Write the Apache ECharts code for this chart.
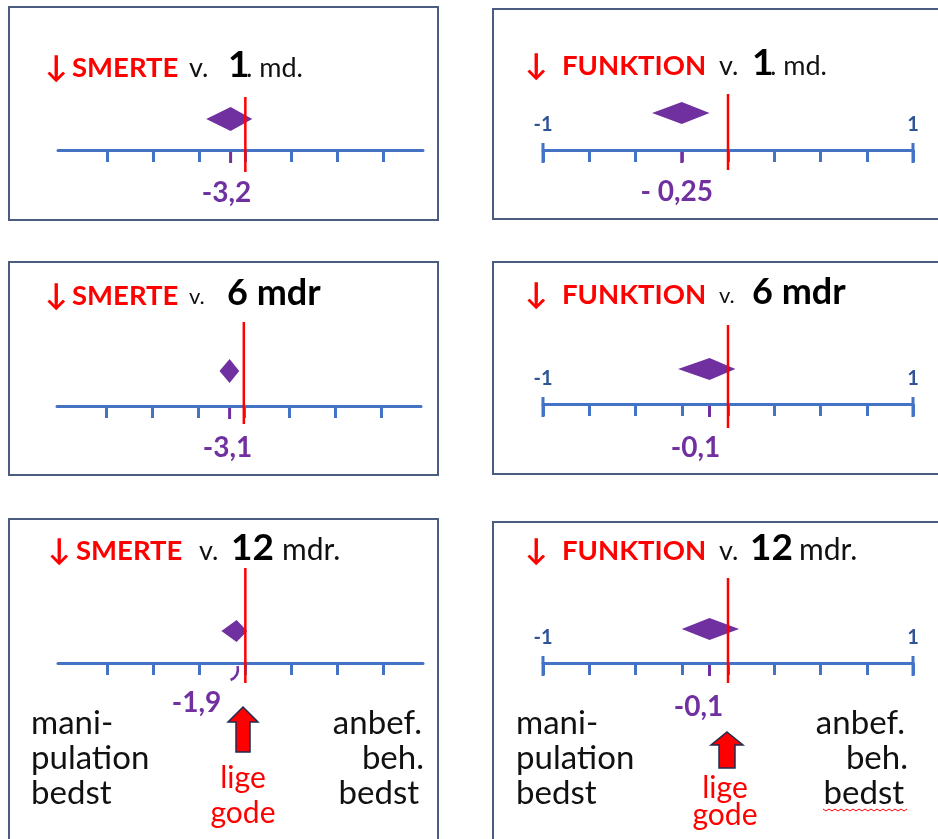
<!DOCTYPE html>
<html>
<head>
<meta charset="utf-8">
<script src="https://cdn.jsdelivr.net/npm/echarts@6/dist/echarts.min.js"></script>
<style>
html, body { margin: 0; padding: 0; background: #fff; }
#main { width: 938px; height: 839px; }
</style>
</head>
<body>
<div id="main"></div>
<script>
// estimat og interval (diamant) for hvert panel: smerte i venstre kolonne, funktion i højre
var estimates = [-3.2, -0.25, -3.1, -0.1, -1.9, -0.1];
var ciLow = [-8.5, -0.41, -5.3, -0.27, -5.2, -0.25];
var ciHigh = [1.5, -0.1, -1.0, 0.04, 0.4, 0.06];
var valueLabels = ['-3,2', '- 0,25', '-3,1', '-0,1', '-1,9', '-0,1'];

// akser
var smerteTicks = [-30, -20, -10, 0, 10, 20, 30];
var funktionTicks = [-1, -0.75, -0.5, -0.25, 0, 0.25, 0.5, 0.75, 1];
var funktionEndLabels = [-1, 1];
var smerteRange = [-40.7, 38.6];
var funktionRange = [-1, 1];

// titler
var titleWords = [
    ['↓', 'SMERTE', 'v.', '1', '. md.'],
    ['↓', 'FUNKTION', 'v.', '1', '. md.'],
    ['↓', 'SMERTE', 'v.', '6 mdr'],
    ['↓', 'FUNKTION', 'v.', '6 mdr'],
    ['↓', 'SMERTE', 'v.', '12', 'mdr.'],
    ['↓', 'FUNKTION', 'v.', '12', 'mdr.']
];
var leftCaption = ['mani-', 'pulation', 'bedst'];
var rightCaption = ['anbef.', 'beh.', 'bedst'];
var midCaption = ['lige', 'gode'];

var RED = '#ff0000', PURPLE = '#7030a0', BLUE = '#4472c4', DARKBLUE = '#2f5597', BORDER = '#4a5d80';
var FONT = 'Lato, "Open Sans", sans-serif';

// placering af panelerne (pixels)
var layout = [
    {box: [9, 7, 429, 213], ax: 58, aw: 365, ay: 150, rt: 97, rb: 172, dy: 31, dh: 12, ldx: -4, ldy: 43,
        tb: 76, tx: [45, 72, 189, 228, 246], tk: ['arr', 'red', 'n', 'big', 'n']},
    {box: [493, 9, 460, 210], ax: 543, aw: 370, ay: 150, rt: 94, rb: 170, dy: 37, dh: 11, ldx: -5, ldy: 42,
        tb: 74, tx: [525, 562, 719, 752, 770], tk: ['arr', 'red', 'n', 'big', 'n']},
    {box: [9, 262, 429, 213], ax: 57, aw: 364, ay: 406, rt: 322, rb: 424, dy: 35, dh: 12, ldx: -2, ldy: 42,
        tb: 304, tx: [45, 72, 189, 227], tk: ['arr', 'red', 'sm', 'big6']},
    {box: [493, 262, 460, 212], ax: 543, aw: 370, ay: 404, rt: 325, rb: 428, dy: 35, dh: 11, ldx: -14, ldy: 44,
        tb: 303, tx: [525, 562, 719, 752], tk: ['arr', 'red', 'sm', 'big6']},
    {box: [9, 519, 429, 340], ax: 58, aw: 365, ay: 663, rt: 568, rb: 683, dy: 32, dh: 11, ldx: -40, ldy: 40,
        tb: 559, tx: [48, 76, 199, 231, 282], tk: ['arr', 'red', 'n', 'big', 'n2'], curl: true},
    {box: [493, 522, 460, 340], ax: 543, aw: 370, ay: 663, rt: 578, rb: 683, dy: 34, dh: 11, ldx: -11, ldy: 44,
        tb: 559, tx: [525, 562, 719, 750, 799], tk: ['arr', 'red', 'n', 'big', 'n2']}
];
var kindStyle = {
    arr: {size: 30, weight: 'bold', color: RED},
    red: {size: 27.5, weight: 'bold', color: RED},
    n: {size: 27, weight: 'normal', color: '#111'},
    n2: {size: 30, weight: 'normal', color: '#111'},
    sm: {size: 22, weight: 'normal', color: '#111'},
    big: {size: 37, weight: 'bold', color: '#000'},
    big6: {size: 36, weight: 'bold', color: '#000'}
};

var myChart = echarts.init(document.getElementById('main'));
var grids = [], xAxes = [], yAxes = [], series = [], graphics = [];

function txt(text, x, baseline, size, weight, color, align) {
    graphics.push({
        type: 'text', x: x, y: baseline - size * 0.3, z: 5,
        style: {
            text: text, fill: color, font: weight + ' ' + size + 'px ' + FONT,
            textAlign: align || 'left', textVerticalAlign: 'middle',
            align: align || 'left', verticalAlign: 'middle'
        }
    });
}

function makeRender(L, isF) {
    return function (params, api) {
        var est = api.value(0), lo = api.value(1), hi = api.value(2);
        var top = api.coord([0, 1]);
        var zero = api.coord([0, 0]);
        var ay = zero[1];
        var ex = api.coord([est, 0])[0];
        var lx = api.coord([lo, 0])[0];
        var hx = api.coord([hi, 0])[0];
        var cy = ay - L.dy;
        var kids = [];
        if (isF) {
            [funktionRange[0], funktionRange[1]].forEach(function (v) {
                var x = api.coord([v, 0])[0];
                kids.push({type: 'line', shape: {x1: x, y1: ay - 7, x2: x, y2: ay + 13},
                    style: {stroke: BLUE, lineWidth: 3}});
            });
        }
        kids.push({type: 'polygon', shape: {points: [[lx, cy], [ex, cy - L.dh], [hx, cy], [ex, cy + L.dh]]},
            style: {fill: PURPLE}});
        if (L.curl) {
            kids.push({type: 'bezierCurve', shape: {x1: ex + 1, y1: ay + 3, cpx1: ex + 3, cpy1: ay + 13, x2: ex - 6, y2: ay + 17},
                style: {stroke: PURPLE, lineWidth: 2.5, fill: null}});
        } else {
            kids.push({type: 'line', shape: {x1: ex, y1: ay + 2, x2: ex, y2: ay + 13},
                style: {stroke: PURPLE, lineWidth: 3}});
        }
        kids.push({type: 'line', shape: {x1: zero[0], y1: top[1], x2: zero[0], y2: L.rb},
            style: {stroke: RED, lineWidth: 2.5}});
        kids.push({type: 'text', x: ex + L.ldx, y: ay + L.ldy,
            style: {text: valueLabels[L.idx], fill: PURPLE, font: 'bold 28px ' + FONT,
                align: 'center', verticalAlign: 'middle'}});
        return {type: 'group', children: kids};
    };
}

layout.forEach(function (L, i) {
    var isF = i % 2 === 1;
    L.idx = i;
    grids.push({left: L.ax, width: L.aw, top: L.rt, height: L.ay - L.rt});
    xAxes.push({
        gridIndex: i, type: 'value',
        min: isF ? funktionRange[0] : smerteRange[0],
        max: isF ? funktionRange[1] : smerteRange[1],
        axisLine: {show: true, lineStyle: {color: BLUE, width: 3}},
        axisTick: {show: true, length: 12, lineStyle: {color: BLUE, width: 3},
            customValues: isF ? funktionTicks : smerteTicks},
        axisLabel: isF ? {show: true, inside: true, margin: 15, customValues: funktionEndLabels,
            color: DARKBLUE, fontWeight: 'bold', fontSize: 20, fontFamily: FONT,
            formatter: function (v) { return String(v); }} : {show: false},
        splitLine: {show: false}
    });
    yAxes.push({gridIndex: i, type: 'value', min: 0, max: 1, show: false});
    series.push({
        type: 'custom', xAxisIndex: i, yAxisIndex: i, z: 3,
        renderItem: makeRender(L, isF),
        data: [[estimates[i], ciLow[i], ciHigh[i]]]
    });
    graphics.push({type: 'rect', shape: {x: L.box[0], y: L.box[1], width: L.box[2], height: L.box[3]},
        style: {fill: null, stroke: BORDER, lineWidth: 2}, z: 1});
    titleWords[i].forEach(function (w, k) {
        var s = kindStyle[L.tk[k]];
        txt(w, L.tx[k], L.tb, s.size, s.weight, s.color);
    });
});

// forklaringer under nederste række
var capBase = [733, 768, 803];
leftCaption.forEach(function (t, k) {
    txt(t, 31, capBase[k], 33, 'normal', '#111', 'left');
    txt(t, 516, capBase[k], 33, 'normal', '#111', 'left');
});
var rightEdge = [[422, 424, 419], [905, 908, 904]];
rightCaption.forEach(function (t, k) {
    txt(t, rightEdge[0][k], capBase[k], 33, 'normal', '#111', 'right');
    txt(t, rightEdge[1][k], capBase[k], 33, 'normal', '#111', 'right');
});
txt(midCaption[0], 243, 787, 30, 'normal', RED, 'center');
txt(midCaption[1], 243, 822, 30, 'normal', RED, 'center');
txt(midCaption[0], 725, 797, 30, 'normal', RED, 'center');
txt(midCaption[1], 725, 824, 30, 'normal', RED, 'center');

// pile der peger op mod "lige gode"
function upArrow(cx, tip, base, bottom, hw, sw) {
    graphics.push({type: 'polygon', z: 4, shape: {points: [
        [cx, tip], [cx + hw, base], [cx + sw, base], [cx + sw, bottom],
        [cx - sw, bottom], [cx - sw, base], [cx - hw, base]]},
        style: {fill: RED, stroke: '#1f2d50', lineWidth: 1.5}});
}
upArrow(243, 707, 722, 752, 15, 7);
upArrow(727, 732, 745, 768, 16, 8);

// stavekontrol-bølgelinje under "bedst"
var wave = [];
for (var x = 823; x <= 907; x += 3) { wave.push([x, 809 + ((x - 823) / 3 % 2 === 0 ? 0 : 2)]); }
graphics.push({type: 'polyline', shape: {points: wave}, style: {stroke: RED, lineWidth: 1, fill: null}, z: 4});

myChart.setOption({
    animation: false,
    backgroundColor: '#fff',
    grid: grids,
    xAxis: xAxes,
    yAxis: yAxes,
    series: series,
    graphic: {elements: graphics}
});
</script>
</body>
</html>
